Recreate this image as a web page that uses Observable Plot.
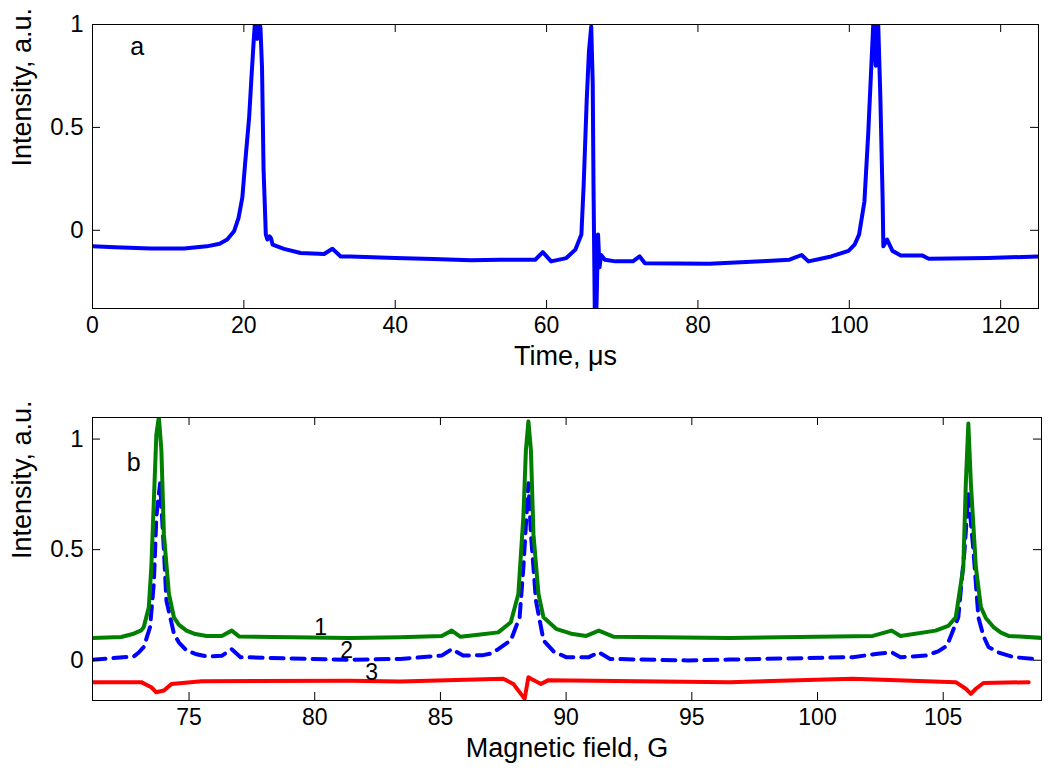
<!DOCTYPE html>
<html>
<head>
<meta charset="utf-8">
<script src="https://cdn.jsdelivr.net/npm/d3@7"></script>
<script src="https://cdn.jsdelivr.net/npm/@observablehq/plot@0.6"></script>
<style>
  body { margin: 0; background: #fff; }
  #chart { width: 1050px; }
  #chart svg { display: block; }
</style>
</head>
<body>
<div id="chart"></div>
<script>
// ---------- Panel a: intensity vs time ----------
const timeUs = [0, 3, 7.7, 12.1, 15.1, 16.8, 17.8, 18.7, 19.3, 19.8, 20.2, 20.7, 21.0, 21.3, 21.5, 21.75, 22.0, 22.2, 22.4, 22.6, 22.9, 23.1, 23.4, 23.6, 23.8, 25.3, 27.5, 30.6, 31.7, 32.3, 32.8, 34.1, 40, 45, 50, 53.9, 58.5, 59.5, 60.6, 62.6, 63.8, 64.6, 64.9, 65.3, 65.6, 65.9, 66.1, 66.2, 66.4, 66.6, 66.8, 67.0, 67.2, 67.7, 69.1, 71.4, 72.3, 73.0, 81.5, 88.4, 92.1, 93.7, 94.6, 97.6, 99.9, 100.7, 101.3, 102.0, 102.5, 102.9, 103.2, 103.5, 103.8, 104.1, 104.4, 104.5, 105.0, 105.7, 106.8, 109.6, 110.5, 118.3, 125];
const intensityA = [-0.078, -0.082, -0.089, -0.089, -0.078, -0.065, -0.045, -0.005, 0.06, 0.16, 0.34, 0.55, 0.74, 0.92, 1.03, 0.93, 1.03, 0.98, 0.79, 0.30, -0.02, -0.045, -0.03, -0.04, -0.07, -0.09, -0.11, -0.115, -0.09, -0.11, -0.127, -0.127, -0.135, -0.14, -0.145, -0.143, -0.143, -0.106, -0.151, -0.135, -0.094, -0.021, 0.22, 0.63, 0.87, 0.99, 0.71, 0.22, -0.5, -0.36, -0.02, -0.18, -0.12, -0.143, -0.151, -0.151, -0.127, -0.16, -0.163, -0.151, -0.143, -0.12, -0.151, -0.127, -0.10, -0.07, -0.02, 0.14, 0.47, 0.79, 1.03, 0.8, 1.03, 0.65, 0.16, -0.078, -0.045, -0.10, -0.122, -0.122, -0.138, -0.135, -0.127];

const xTicksA = [0, 20, 40, 60, 80, 100, 120];
const xTickLabelsA = ["0", "20", "40", "60", "80", "100", "120"];
const yTicksA = [0, 0.5, 1];
const yTickLabelsA = ["0", "0.5", "1"];
const xDomainA = [0, 125];
const yDomainA = [-0.38, 1];

// ---------- Panel b: intensity vs magnetic field ----------
const field1 = [71.16, 72.3, 72.8, 73.1, 73.2, 73.4, 73.5, 73.6, 73.7, 73.8, 73.9, 74.0, 74.2, 74.4, 74.6, 74.9, 75.2, 75.7, 76.3, 76.7, 77.0, 81.4, 83.4, 85.05, 85.45, 85.8, 86.5, 87.3, 87.8, 88.1, 88.3, 88.4, 88.5, 88.6, 88.7, 88.9, 89.1, 89.6, 90.2, 90.8, 91.3, 91.9, 96.5, 102.2, 102.95, 103.3, 104.7, 105.2, 105.5, 105.8, 105.9, 106.0, 106.1, 106.3, 106.5, 106.7, 107.0, 107.3, 107.6, 108.91];
const curve1 = [0.101, 0.105, 0.12, 0.135, 0.15, 0.24, 0.42, 0.72, 1.02, 1.1, 0.95, 0.57, 0.30, 0.194, 0.16, 0.134, 0.12, 0.11, 0.11, 0.134, 0.107, 0.101, 0.104, 0.11, 0.134, 0.106, 0.115, 0.126, 0.172, 0.30, 0.65, 0.95, 1.08, 0.95, 0.57, 0.30, 0.194, 0.142, 0.12, 0.11, 0.134, 0.106, 0.101, 0.11, 0.134, 0.11, 0.134, 0.155, 0.194, 0.42, 0.80, 1.07, 0.80, 0.42, 0.24, 0.19, 0.15, 0.125, 0.11, 0.101];

const field2 = [71.16, 72.8, 73.0, 73.2, 73.45, 73.6, 73.7, 73.85, 74.0, 74.1, 74.4, 74.6, 74.9, 75.3, 75.7, 76.3, 76.7, 77.05, 81.4, 83.4, 85.05, 85.45, 85.9, 86.7, 87.0, 87.3, 87.8, 88.15, 88.3, 88.5, 88.6, 88.8, 89.1, 89.5, 90.0, 90.9, 91.3, 91.75, 94.85, 96.5, 101.4, 102.4, 102.95, 103.3, 104.3, 104.8, 105.15, 105.6, 105.85, 106.0, 106.2, 106.4, 106.6, 106.8, 107.2, 107.8, 108.6];
const curve2 = [0.002, 0.017, 0.035, 0.06, 0.15, 0.35, 0.65, 0.80, 0.50, 0.27, 0.12, 0.08, 0.044, 0.027, 0.017, 0.02, 0.05, 0.014, 0.002, 0.006, 0.021, 0.05, 0.021, 0.023, 0.03, 0.05, 0.09, 0.194, 0.42, 0.80, 0.57, 0.27, 0.09, 0.04, 0.014, 0.014, 0.036, 0.006, -0.001, 0.003, 0.014, 0.029, 0.036, 0.014, 0.021, 0.04, 0.066, 0.194, 0.50, 0.75, 0.50, 0.194, 0.11, 0.06, 0.035, 0.014, 0.006];

const field3 = [71.16, 73.1, 73.5, 73.7, 74.0, 74.3, 75.5, 81.4, 83.4, 87.5, 87.9, 88.2, 88.35, 88.5, 88.6, 89.0, 89.3, 96.5, 101.4, 105.5, 105.9, 106.1, 106.3, 106.6, 108.4];
const curve3 = [-0.099, -0.099, -0.122, -0.145, -0.137, -0.107, -0.095, -0.093, -0.096, -0.084, -0.107, -0.152, -0.174, -0.077, -0.084, -0.107, -0.09, -0.099, -0.084, -0.099, -0.129, -0.152, -0.129, -0.103, -0.099];

const curveNames = ["1", "2", "3"];
const curveLabelX = [80.24, 81.27, 82.26];
const curveLabelY = [0.147, 0.044, -0.056];

const xTicksB = [75, 80, 85, 90, 95, 100, 105];
const xTickLabelsB = ["75", "80", "85", "90", "95", "100", "105"];
const yTicksB = [0, 0.5, 1];
const yTickLabelsB = ["0", "0.5", "1"];
const xDomainB = [71.16, 108.91];
const yDomainB = [-0.182, 1.0975];

const panelLetters = ["a", "b"];
const panelLetterPos = [[5.9, 0.89], [72.8, 0.89]];
const xLabels = ["Time, \u03bcs", "Magnetic field, G"];
const yLabel = "Intensity, a.u.";

// ---------- helpers ----------
const FONT = "'Liberation Sans', Arial, Helvetica, sans-serif";
const W = 1050;

function panel({height, mt, mb, mr, xDomain, yDomain, xTicks, xTickLabels, yTicks, yTickLabels, xLabel, series, extra}) {
  const frameH = height - mt - mb;
  const frameW = W - 92 - mr;
  const tick = 8;
  const fmt = (ticks, labels) => d => labels[ticks.indexOf(d)];
  return Plot.plot({
    width: W, height,
    marginLeft: 92, marginRight: mr, marginTop: mt, marginBottom: mb,
    style: {fontFamily: FONT, background: "white", color: "black", overflow: "visible"},
    x: {domain: xDomain},
    y: {domain: yDomain},
    marks: [
      ...series,
      // inward ticks on all four sides
      Plot.tickX(xTicks, {x: d => d, insetTop: frameH - tick, stroke: "black"}),
      Plot.tickX(xTicks, {x: d => d, insetBottom: frameH - tick, stroke: "black"}),
      Plot.tickY(yTicks, {y: d => d, insetRight: frameW - tick, stroke: "black"}),
      Plot.tickY(yTicks, {y: d => d, insetLeft: frameW - tick, stroke: "black"}),
      Plot.frame({stroke: "black", strokeWidth: 1}),
      Plot.axisX(xTicks, {tickSize: 0, tickPadding: 8, fontSize: 23, tickFormat: fmt(xTicks, xTickLabels), label: null}),
      Plot.axisY(yTicks, {tickSize: 0, tickPadding: 9, fontSize: 24, tickFormat: fmt(yTicks, yTickLabels), label: null}),
      Plot.text([xLabel], {text: d => d, frameAnchor: "bottom", dy: 56, fontSize: 27, fill: "black"}),
      Plot.text([yLabel], {text: d => d, frameAnchor: "left", dx: -70, rotate: -90, fontSize: 27, fill: "black"}),
      ...extra
    ]
  });
}

const rowsA = timeUs.map((t, i) => ({t, v: intensityA[i]}));
const plotA = panel({
  height: 385, mt: 24, mb: 77, mr: 12,
  xDomain: xDomainA, yDomain: yDomainA,
  xTicks: xTicksA, xTickLabels: xTickLabelsA, yTicks: yTicksA, yTickLabels: yTickLabelsA,
  xLabel: xLabels[0],
  series: [
    Plot.line(rowsA, {x: "t", y: "v", stroke: "#0000ff", strokeWidth: 4, clip: true, strokeLinejoin: "round"})
  ],
  extra: [
    Plot.text([panelLetters[0]], {x: panelLetterPos[0][0], y: panelLetterPos[0][1], text: d => d, fontSize: 25, fill: "black"})
  ]
});

const rows1 = field1.map((x, i) => ({x, v: curve1[i]}));
const rows2 = field2.map((x, i) => ({x, v: curve2[i]}));
const rows3 = field3.map((x, i) => ({x, v: curve3[i]}));
const labelRows = curveNames.map((n, i) => ({n, x: curveLabelX[i], y: curveLabelY[i]}));

const plotB = panel({
  height: 385, mt: 32, mb: 70, mr: 9,
  xDomain: xDomainB, yDomain: yDomainB,
  xTicks: xTicksB, xTickLabels: xTickLabelsB, yTicks: yTicksB, yTickLabels: yTickLabelsB,
  xLabel: xLabels[1],
  series: [
    Plot.line(rows3, {x: "x", y: "v", stroke: "#ff0000", strokeWidth: 4, clip: true, strokeLinejoin: "round"}),
    Plot.line(rows2, {x: "x", y: "v", stroke: "#0000ff", strokeWidth: 4, strokeDasharray: "13,8", clip: true, strokeLinejoin: "round"}),
    Plot.line(rows1, {x: "x", y: "v", stroke: "#007f00", strokeWidth: 4, clip: true, strokeLinejoin: "round"})
  ],
  extra: [
    Plot.text(labelRows, {x: "x", y: "y", text: "n", fontSize: 23, fill: "black"}),
    Plot.text([panelLetters[1]], {x: panelLetterPos[1][0], y: panelLetterPos[1][1], text: d => d, fontSize: 25, fill: "black"})
  ]
});

const chart = document.getElementById("chart");
chart.appendChild(plotA);
chart.appendChild(plotB);
</script>
</body>
</html>
